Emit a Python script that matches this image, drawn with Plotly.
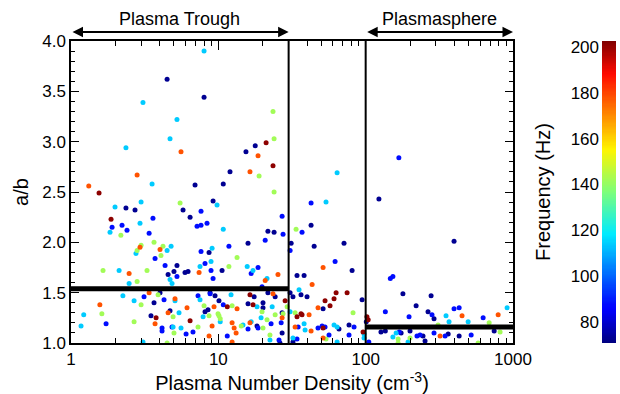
import numpy as np
import plotly.graph_objects as go

# ---------------- data ----------------
freq_classes = [73, 88, 114, 142, 178, 201]  # Hz (colour classes seen in picture)

dens_73 = [4.49, 6.95, 8.00, 10.8, 12.0, 15.4, 17.8, 2.36, 2.72, 5.76, 6.43, 9.21, 8.65, 5.24, 5.00, 4.56, 5.94, 6.23,
           10.6, 15.9, 21.7, 23.9, 31.2, 34.2, 123, 42.6, 44.7, 71.3, 398, 80.9, 38.2,
           3.49, 4.02, 3.66, 4.70, 8.12, 8.51, 8.79, 9.50, 10.1, 15.9, 17.5, 18.3, 20.1, 20.1, 24.3, 27.1, 26.2, 27.1,
           30.7, 32.1, 21.7, 36.4, 40.0, 51.4, 94.6, 179, 220, 265, 278, 291, 101, 77.1, 65.9, 32.1, 127, 136, 174,
           200, 245, 253, 363, 431, 745]
ab_73 = [3.62, 2.57, 3.44, 2.58, 2.70, 2.90, 2.96, 2.34, 2.32, 2.32, 2.25, 2.41, 1.90, 1.77, 1.71, 1.68, 1.70, 1.71,
         1.72, 1.99, 2.11, 2.10, 1.99, 1.67, 2.43, 2.17, 1.96, 1.99, 2.01, 1.72, 1.67,
         1.27, 1.50, 1.40, 1.32, 1.31, 1.33, 1.50, 1.47, 1.42, 1.39, 1.46, 1.17, 1.40, 1.35, 1.46, 1.10, 1.00, 1.30,
         1.50, 1.46, 1.50, 1.48, 1.46, 1.34, 1.43, 1.49, 1.37, 1.31, 1.47, 1.24, 1.21, 1.18, 1.14, 1.01, 1.11, 1.12, 1.10,
         1.12, 1.07, 1.02, 1.09, 1.07, 1.12]

dens_88 = [1.90, 2.22, 2.40, 3.39, 3.60, 3.72, 7.63, 7.17, 7.63, 8.38, 7.63, 11.8, 4.35, 5.24, 8.12, 8.92, 9.21, 16.7,
           18.6, 20.8, 27.1, 27.5, 30.7, 19.8, 42.6, 37.0, 62.0, 147, 153, 168,
           1.73, 3.13, 4.28, 4.15, 4.15, 4.85, 6.04, 6.73, 7.28, 10.8, 11.5, 15.9, 18.6, 22.8, 25.8, 26.7, 34.2, 8.79,
           136, 197, 282, 398, 431, 627, 83.4, 77.1, 56.4, 53.0, 47.5, 50.6, 34.8, 105, 223, 234, 291, 346, 520, 169]
ab_88 = [2.15, 2.17, 2.12, 2.09, 2.24, 1.84, 2.31, 2.16, 2.17, 2.19, 1.91, 1.96, 1.77, 1.66, 1.79, 1.72, 1.64, 1.69,
         1.75, 2.02, 2.26, 2.08, 1.92, 1.56, 2.39, 2.10, 1.81, 1.64, 1.66, 2.84,
         1.19, 1.46, 1.43, 1.15, 1.12, 1.16, 1.09, 1.11, 1.47, 1.38, 1.07, 1.14, 1.15, 1.19, 1.03, 1.20, 1.04, 1.49,
         1.31, 1.26, 1.28, 1.34, 1.35, 1.25, 1.16, 1.08, 1.08, 1.16, 1.15, 1.17, 1.16, 1.01, 1.07, 1.08, 1.10, 1.07, 1.08, 1.11]

dens_114 = [2.36, 3.08, 3.55, 5.24, 4.70, 8.00, 1.99, 2.99, 1.84, 2.94, 2.76, 4.49, 4.78, 9.80, 10.8, 9.07, 4.70, 4.85,
            7.51, 8.92, 15.7, 17.2, 2.12, 2.48, 21.4, 53.8, 35.3, 64.0,
            1.17, 1.22, 2.25, 2.68, 3.08, 5.08, 5.41, 4.93, 5.58, 7.51, 7.88, 10.3, 12.2, 14.7, 16.7, 18.3, 19.5, 22.4,
            23.2, 30.7, 351, 368, 496, 912, 97.5, 97.5, 61.0, 64.0, 64.0, 38.8, 38.2, 32.1, 161, 153, 194]
ab_114 = [2.94, 3.39, 2.58, 3.22, 3.03, 3.90, 2.35, 2.40, 2.10, 2.19, 1.89, 1.92, 1.96, 2.37, 2.13, 1.94, 1.63, 1.59,
          1.76, 1.81, 1.76, 1.72, 1.72, 1.59, 1.64, 2.40, 1.53, 2.69,
          1.17, 1.28, 1.47, 1.42, 1.01, 1.42, 1.30, 1.16, 1.15, 1.43, 1.26, 1.21, 1.48, 1.18, 1.21, 1.36, 1.25, 1.03,
          1.36, 1.31, 1.27, 1.21, 1.21, 1.35, 1.09, 1.05, 1.18, 1.16, 1.01, 1.13, 1.19, 1.05, 1.10, 1.06, 1.01]

dens_142 = [18.9, 23.5, 23.9, 23.9, 2.18, 2.99, 2.81, 3.66, 4.08, 4.21, 5.50, 11.8, 13.4, 1.65, 2.81, 3.28, 33.7,
            1.62, 2.99, 2.68, 3.90, 4.93, 5.00, 4.49, 7.28, 8.00, 10.1, 10.3, 12.4, 14.3, 19.8, 20.1, 21.4, 22.4,
            24.3, 29.3, 33.2, 8.65, 9.95, 27.5, 82.1, 689, 53.8, 166, 166, 200, 580, 817, 310]
ab_142 = [2.66, 3.30, 3.03, 2.50, 2.07, 1.97, 1.92, 2.00, 1.87, 1.96, 2.39, 1.76, 1.85, 1.72, 1.61, 1.72, 2.13,
          1.29, 1.38, 1.21, 1.48, 1.26, 1.10, 1.00, 1.16, 1.37, 1.27, 1.24, 1.37, 1.17, 1.31, 1.15, 1.23, 1.08,
          1.28, 1.36, 1.30, 1.27, 1.29, 1.29, 1.30, 1.20, 1.04, 1.04, 1.00, 1.05, 1.00, 1.11, 1.18]

dens_178 = [1.32, 2.81, 5.58, 16.4, 18.6, 2.94, 4.02, 7.40, 2.48, 20.8, 25.4, 51.4, 43.3,
            1.57, 3.39, 3.72, 4.56, 5.08, 6.13, 8.65, 9.07, 9.35, 12.4, 12.4, 12.8, 13.2, 13.4, 16.4, 23.5, 27.1,
            33.2, 47.5, 41.3, 451, 793, 51.4, 42.6, 320]
ab_178 = [2.56, 2.67, 2.90, 2.70, 2.86, 1.95, 1.93, 1.70, 1.69, 1.62, 1.68, 1.75, 1.58,
          1.38, 1.50, 1.19, 1.30, 1.44, 1.35, 1.07, 1.17, 1.36, 1.20, 1.01, 1.15, 1.10, 1.34, 1.20, 1.49, 1.25,
          1.16, 1.35, 1.28, 1.27, 1.28, 1.05, 1.12, 1.07]

dens_201 = [1.55, 21.1, 23.5, 1.87, 3.78, 6.43, 11.5, 16.4, 17.2, 28.4, 34.2, 63.0, 61.0, 74.8, 57.3, 53.0, 37.0,
            36.4, 102, 104, 96.0, 51.4]
ab_201 = [2.49, 2.99, 2.76, 2.23, 1.25, 1.22, 1.36, 1.48, 1.38, 1.42, 1.26, 1.50, 1.44, 1.50, 1.37, 1.42, 1.28,
          1.29, 1.26, 1.23, 1.11, 1.15]

# region boundaries (cm^-3) and median a/b levels
region_names = ["Plasma Trough", "Plasmasphere"]
region_bounds = [[1, 30], [100, 1000]]
region_levels = [1.54, 1.16]

x_tickvals = [1, 10, 100, 1000]
x_ticktext = ["1", "10", "100", "1000"]
y_range = [1.0, 4.0]
freq_range = [71.0, 202.5]
cbar_ticks = [80, 100, 120, 140, 160, 180, 200]

# ---------------- figure ----------------
FONT = "Liberation Sans, Arial, Helvetica, sans-serif"
JET = [[0.0, "rgb(0,0,128)"], [0.11, "rgb(0,0,255)"], [0.125, "rgb(0,8,255)"],
       [0.36, "rgb(0,235,255)"], [0.50, "rgb(125,255,122)"], [0.64, "rgb(255,245,0)"],
       [0.89, "rgb(255,10,0)"], [1.0, "rgb(128,0,0)"]]

dens_groups = [dens_73, dens_88, dens_114, dens_142, dens_178, dens_201]
ab_groups = [ab_73, ab_88, ab_114, ab_142, ab_178, ab_201]
dens, ab, freq = [], [], []
for f, d, a in zip(freq_classes, dens_groups, ab_groups):
    dens += d
    ab += a
    freq += [f] * len(d)

fig = go.Figure()
fig.add_trace(go.Scatter(
    x=dens, y=ab, mode="markers",
    marker=dict(size=5, color=freq, colorscale=JET, cmin=freq_range[0], cmax=freq_range[1],
                showscale=False, line=dict(width=0)),
    showlegend=False, hoverinfo="skip"))

# thick median lines
for (lo, hi), lev in zip(region_bounds, region_levels):
    fig.add_trace(go.Scatter(x=[lo, hi], y=[lev, lev], mode="lines",
                             line=dict(color="black", width=5), showlegend=False, hoverinfo="skip"))
# vertical boundaries
for xv in [region_bounds[0][1], region_bounds[1][0]]:
    fig.add_trace(go.Scatter(x=[xv, xv], y=y_range, mode="lines",
                             line=dict(color="black", width=2), showlegend=False, hoverinfo="skip"))

# colour bar drawn as a heatmap on its own axis
grad = np.linspace(freq_range[0], freq_range[1], 256)
fig.add_trace(go.Heatmap(z=[[v] for v in grad], x=[0], y=grad, colorscale=JET,
                         zmin=freq_range[0], zmax=freq_range[1], showscale=False,
                         xaxis="x2", yaxis="y2", hoverinfo="skip"))

# region arrows + labels
for name, (lo, hi) in zip(region_names, region_bounds):
    fig.add_annotation(x=np.log10(hi), y=1.03, ax=np.log10(lo), ay=0,
                       xref="x", yref="paper", axref="x", ayref="pixel",
                       text="", showarrow=True, arrowhead=2, startarrowhead=2,
                       arrowside="end+start", arrowwidth=2, arrowsize=1.05, startarrowsize=1.05,
                       arrowcolor="black")
    fig.add_annotation(x=(np.log10(lo) + np.log10(hi)) / 2, y=1.073, xref="x", yref="paper",
                       text=name, showarrow=False, font=dict(size=18, color="black", family=FONT),
                       xanchor="center", yanchor="middle")

axis_common = dict(showline=True, linecolor="black", linewidth=1.5, mirror="ticks",
                   ticks="inside", tickcolor="black", tickwidth=1.2, showgrid=False, zeroline=False,
                   automargin=False,
                   tickfont=dict(size=17, color="black", family=FONT))

fig.update_layout(
    width=620, height=394, autosize=False,
    margin=dict(l=71, r=4, t=41, b=51, autoexpand=False),
    paper_bgcolor="white", plot_bgcolor="white",
    font=dict(family=FONT, color="black"),
    showlegend=False,
    xaxis=dict(type="log", range=[np.log10(x_tickvals[0]), np.log10(x_tickvals[-1])],
               domain=[0, 442 / 545], tickmode="array", tickvals=x_tickvals, ticktext=x_ticktext,
               ticklen=9,
               minor=dict(ticks="inside", ticklen=5, tickcolor="black", tickwidth=1.2, dtick="D1", showgrid=False),
               title=dict(text="Plasma Number Density (cm<sup>-3</sup>)", font=dict(size=20, family=FONT),
                          standoff=6),
               **axis_common),
    yaxis=dict(range=y_range, dtick=0.5, tick0=1, tickformat=".1f", ticklen=8,
               minor=dict(ticks="inside", ticklen=4, tickcolor="black", tickwidth=1.2, dtick=0.1, showgrid=False),
               title=dict(text="a/b", font=dict(size=20, family=FONT), standoff=8),
               **axis_common),
    xaxis2=dict(domain=[531 / 545, 1.0], range=[-0.5, 0.5], visible=False, anchor="y2", automargin=False),
    yaxis2=dict(domain=[0, 1], range=freq_range, anchor="x2", side="left", showline=False,
                ticks="", tickvals=cbar_ticks, showgrid=False, zeroline=False, automargin=False,
                ticklabelstandoff=2,
                tickfont=dict(size=17, color="black", family=FONT),
                title=dict(text="Frequency (Hz)", font=dict(size=20, family=FONT), standoff=14)),
)

fig.write_html("out.html")
